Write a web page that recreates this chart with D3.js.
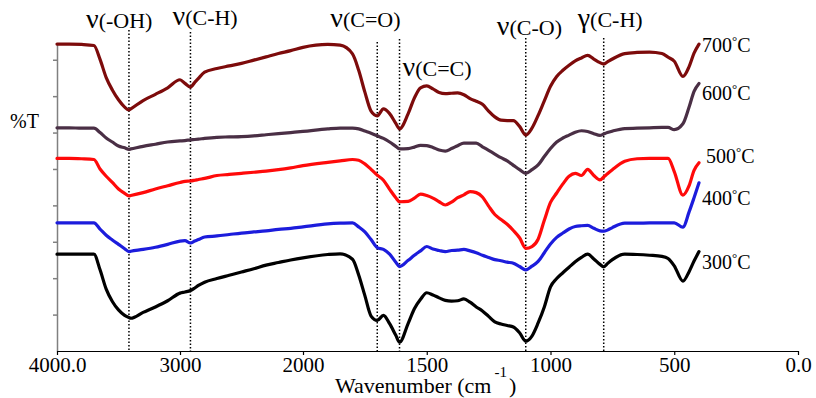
<!DOCTYPE html>
<html>
<head>
<meta charset="utf-8">
<script src="https://cdn.jsdelivr.net/npm/d3@7"></script>
<style>
  body { margin: 0; background: #fff; }
  svg text { font-family: 'Liberation Serif', 'DejaVu Serif', serif; fill: #000; }
</style>
</head>
<body>
<div id="chart"></div>
<script>
// wavenumber grid (cm-1) shared by all spectra
const wavenumbers = [4000, 3900, 3800, 3700, 3650, 3600, 3550, 3500, 3450, 3415, 3400,
  3300, 3200, 3100, 3000, 2960, 2915, 2880, 2850, 2800,
  2700, 2600, 2500, 2400, 2300, 2200, 2100, 2000,
  1900, 1850, 1800, 1775, 1750, 1725, 1700, 1675, 1650, 1625, 1610,
  1575, 1550, 1525, 1500,
  1475, 1450, 1425, 1400, 1375, 1350, 1325, 1300, 1275, 1250, 1225, 1200, 1175, 1150, 1125, 1100, 1075, 1050, 1025, 1000,
  975, 950, 925, 900, 875, 850, 825, 800,
  785, 770, 750,
  700, 650, 600, 550, 525, 500,
  465, 440, 420, 400];

// %T (offset, arbitrary units) for each calcination temperature
const t700 = [84.3, 84.3, 84.2, 83.9, 80.1, 75.1, 71.7, 69.0, 67.0, 66.2, 66.5,
  68.8, 70.5, 72.3, 74.5, 73.5, 72.5, 73.8, 74.9, 76.6,
  77.6, 78.3, 79.0, 79.9, 80.8, 81.7, 82.5, 83.4,
  84.2, 84.0, 81.6, 77.1, 71.1, 65.9, 64.6, 66.5, 65.2, 62.5, 61.0,
  65.2, 69.5, 72.3, 72.8,
  72.0, 71.0, 70.7, 70.8, 70.9, 70.4, 69.3, 68.6, 67.8, 65.9, 64.3, 63.4, 63.3, 63.3, 61.7, 59.3, 61.2, 64.7, 68.7, 72.7,
  75.4, 77.1, 78.5, 79.7, 80.5, 81.2, 80.2, 79.2,
  78.8, 79.4, 80.2,
  81.7, 82.0, 82.1, 81.7, 80.7, 79.6,
  75.4, 78.1, 81.8, 84.3];

const t600 = [61.3, 61.3, 61.2, 61.2, 60.0, 58.5, 57.4, 56.3, 55.8, 55.4, 55.5,
  56.2, 56.8, 57.4, 57.7, 57.8, 58.0, 58.1, 58.2, 58.4,
  58.7, 58.8, 58.9, 59.1, 59.4, 59.7, 60.0, 60.3,
  61.0, 61.2, 61.2, 61.0, 60.4, 59.8, 59.1, 58.4, 57.4, 56.2, 55.5,
  55.6, 56.0, 56.5, 56.4,
  55.9, 55.2, 54.9, 55.6, 56.4, 57.1, 57.1, 57.1, 56.1, 55.1, 54.1, 53.1, 52.2, 51.0, 49.8, 48.8, 49.8, 51.1, 53.4, 55.6,
  57.4, 58.5, 59.3, 60.1, 60.5, 60.3, 59.7, 59.2,
  59.6, 60.0, 60.4,
  61.1, 61.2, 61.3, 61.4, 61.4, 60.8,
  62.4, 67.0, 71.3, 73.5];

const t500 = [52.9, 52.9, 52.8, 52.6, 50.0, 48.0, 46.3, 44.5, 43.3, 42.6, 42.7,
  43.5, 44.5, 45.4, 46.3, 46.6, 46.7, 46.9, 47.1, 47.4,
  48.2, 48.5, 48.8, 49.1, 49.4, 49.8, 50.3, 50.9,
  51.8, 52.2, 52.6, 52.4, 51.4, 49.9, 48.3, 46.9, 44.4, 42.1, 41.0,
  41.1, 42.0, 43.1, 42.7,
  42.0, 41.0, 40.1, 40.9, 42.1, 42.9, 43.8, 43.5, 42.3, 39.8, 37.5, 36.1, 34.8, 33.1, 31.1, 28.2, 28.7, 30.7, 35.9, 40.8,
  43.4, 45.9, 48.0, 48.8, 48.2, 49.9, 48.2, 47.0,
  47.8, 48.7, 49.8,
  52.1, 52.8, 52.9, 52.9, 52.9, 49.3,
  42.8, 45.4, 49.6, 51.7];

const t400 = [35.2, 35.2, 35.2, 35.2, 33.5, 31.8, 30.5, 29.3, 28.1, 27.3, 27.4,
  27.9, 28.5, 29.3, 30.2, 30.3, 29.7, 30.2, 30.6, 31.3,
  31.6, 32.0, 32.4, 32.7, 33.0, 33.4, 33.7, 34.1,
  34.9, 35.1, 35.2, 34.1, 32.7, 30.6, 28.4, 27.9, 26.6, 24.4, 23.2,
  24.9, 26.3, 27.5, 28.7,
  28.0, 27.6, 27.3, 27.6, 27.7, 27.9, 27.5, 27.0, 26.3, 25.7, 25.1, 24.8, 24.4, 24.1, 23.2, 22.3, 23.3, 24.6, 27.0, 29.4,
  31.2, 32.4, 33.5, 34.2, 34.4, 34.5, 33.7, 33.0,
  32.9, 33.2, 33.9,
  35.1, 35.1, 35.2, 35.2, 35.2, 35.2,
  34.0, 38.2, 42.1, 46.2];

const t300 = [26.6, 26.6, 26.6, 26.6, 22.3, 17.0, 13.6, 11.3, 9.8, 9.2, 9.0,
  10.6, 12.1, 13.8, 15.9, 16.2, 16.6, 17.3, 18.0, 18.9,
  19.9, 20.8, 21.7, 22.6, 23.6, 24.3, 25.0, 25.6,
  26.5, 26.7, 25.2, 20.9, 15.2, 9.6, 8.4, 9.8, 7.5, 4.3, 2.4,
  7.6, 11.6, 14.2, 16.0,
  15.4, 14.6, 13.9, 13.7, 13.8, 14.3, 13.4, 12.1, 11.0, 9.5, 8.0, 7.4, 7.0, 6.6, 5.0, 2.7, 4.1, 7.7, 12.1, 17.6,
  19.9, 21.5, 23.0, 24.5, 25.7, 26.6, 25.3, 23.8,
  23.1, 24.0, 25.1,
  26.6, 26.5, 26.3, 26.0, 25.4, 23.4,
  19.2, 21.8, 24.7, 27.3];

const temps = ['700', '600', '500', '400', '300'];
const seriesValues = [t700, t600, t500, t400, t300];

// assigned vibration bands (cm-1)
const bands = [3415, 2915, 1700, 1610, 1100, 785];
const bandSymbols = ['ν', 'ν', 'ν', 'ν', 'ν', 'γ'];
const bandGroups = ['(-OH)', '(C-H)', '(C=O)', '(C=C)', '(C-O)', '(C-H)'];

const xTicks = [4000, 3000, 2000, 1500, 1000, 500, 0];
const xTickLabels = ['4000.0', '3000', '2000', '1500', '1000', '500', '0.0'];
const yTicks = [10, 20, 30, 40, 50, 60, 70, 80];

// layout
const width = 816, height = 398;
const serif = "'Liberation Serif', 'DejaVu Serif', serif";
const colors = ['#7d0b0b', '#4a2f45', '#ff0a0a', '#1c1cdc', '#000000'];
const labelTop = [30, 32, 42, 39, 38, 38];          // top of each dotted line
const bandLabelPos = [[-43, 28], [-18, 25], [-47, 27], [3, 76], [-29, 35], [-26, 27]];
const tempLabelPos = [[702, 52], [702, 100], [706, 163], [702, 205], [702, 269]];

const svg = d3.select('#chart').append('svg')
  .attr('width', width)
  .attr('height', height)
  .attr('font-family', serif)
  .style('background', '#fff');

// 4000-2000 region is shown at half scale
const x = d3.scaleLinear().domain([4000, 2000, 0]).range([57, 303, 798]);
const y = d3.scaleLinear().domain([0, 84.6]).range([351, 43]);

// dotted band markers
svg.append('g').selectAll('line')
  .data(bands)
  .enter().append('line')
  .attr('x1', d => x(d)).attr('x2', d => x(d))
  .attr('y1', (d, i) => labelTop[i])
  .attr('y2', y(0))
  .attr('stroke', '#000')
  .attr('stroke-width', 1.5)
  .attr('stroke-dasharray', '1.5,2');

// axes
const yAxis = svg.append('g')
  .attr('transform', `translate(${x(4000)},0)`)
  .call(d3.axisLeft(y).tickValues(yTicks).tickSize(4).tickSizeOuter(0).tickFormat(''));
yAxis.selectAll('path, line').attr('stroke', '#808080').attr('stroke-width', 1.5);

const xAxis = svg.append('g')
  .attr('transform', `translate(0,${y(0)})`)
  .call(d3.axisBottom(x).tickValues(xTicks).tickSize(4).tickSizeOuter(0)
    .tickFormat((d, i) => xTickLabels[i]))
  .attr('font-family', serif)
  .attr('font-size', 21);
xAxis.selectAll('path, line').attr('stroke', '#000').attr('stroke-width', 1.2);
xAxis.selectAll('text').attr('fill', '#000').attr('dy', '0.66em');

// spectra
const line = d3.line()
  .x((d, i) => x(wavenumbers[i]))
  .y(d => y(d))
  .curve(d3.curveMonotoneX);

svg.append('g').selectAll('path')
  .data(seriesValues)
  .enter().append('path')
  .attr('d', line)
  .attr('fill', 'none')
  .attr('stroke', (d, i) => colors[i])
  .attr('stroke-width', 3.2)
  .attr('stroke-linejoin', 'round')
  .attr('stroke-linecap', 'round');

// band labels
const bl = svg.append('g').selectAll('text')
  .data(bands)
  .enter().append('text')
  .attr('x', (d, i) => x(d) + bandLabelPos[i][0])
  .attr('y', (d, i) => bandLabelPos[i][1]);
bl.append('tspan')
  .attr('font-size', 28)
  .text((d, i) => bandSymbols[i]);
bl.append('tspan')
  .attr('font-size', 22)
  .text((d, i) => bandGroups[i]);

// temperature labels
const tl = svg.append('g').selectAll('text')
  .data(temps)
  .enter().append('text')
  .attr('x', (d, i) => tempLabelPos[i][0])
  .attr('y', (d, i) => tempLabelPos[i][1])
  .attr('font-size', 20);
tl.append('tspan').text(d => d);
tl.append('tspan').attr('dy', -7).attr('font-size', 13).text('°');
tl.append('tspan').attr('dy', 7).text('C');

// axis titles
svg.append('text')
  .attr('x', 10).attr('y', 128)
  .attr('font-size', 20)
  .text('%T');

const xt = svg.append('text')
  .attr('x', 335).attr('y', 393)
  .attr('font-size', 22);
xt.append('tspan').text('Wavenumber  (cm');
xt.append('tspan').attr('dx', 3).attr('dy', -16).attr('font-size', 15).text('-1');
xt.append('tspan').attr('dx', 2).attr('dy', 16).text(')');
</script>
</body>
</html>
